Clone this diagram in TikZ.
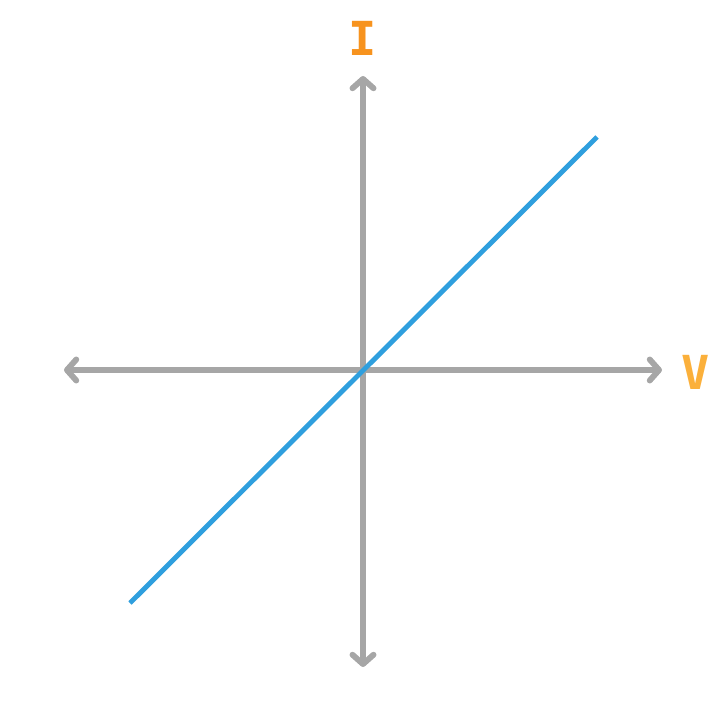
\documentclass[tikz,border=0pt]{standalone}
\usepackage{fontspec}
\setmainfont{DejaVu Sans Mono}
\usetikzlibrary{arrows.meta}
\definecolor{axisgray}{HTML}{A6A6A6}
\definecolor{lineblue}{HTML}{2F9FDE}
\definecolor{iorange}{HTML}{F7931E}
\definecolor{vorange}{HTML}{FBB03B}
\begin{document}
\begin{tikzpicture}[x=0.03cm,y=-0.03cm,
  axis/.style={draw=axisgray,line width=5pt,line cap=round,
    {Straight Barb[length=8pt,width=18pt,round]}-{Straight Barb[length=8pt,width=18pt,round]}},
  curve/.style={draw=lineblue,line width=4.2pt},
  lbl/.style={font=\bfseries\fontsize{40}{40}\selectfont}]
\useasboundingbox (0,0) rectangle (728,709);
\coordinate (top) at (363,76);
\coordinate (bot) at (363,667);
\coordinate (left) at (64,370);
\coordinate (right) at (662,370);
\coordinate (lo) at (130,603);
\coordinate (hi) at (597,137);
\draw[axis] (bot) -- (top);
\draw[axis] (left) -- (right);
\draw[curve] (lo) -- (hi);
\node[lbl,text=iorange] (I) at (363,38) {I};
\node[lbl,text=vorange] (V) at (696,372) {V};
\end{tikzpicture}
\end{document}
